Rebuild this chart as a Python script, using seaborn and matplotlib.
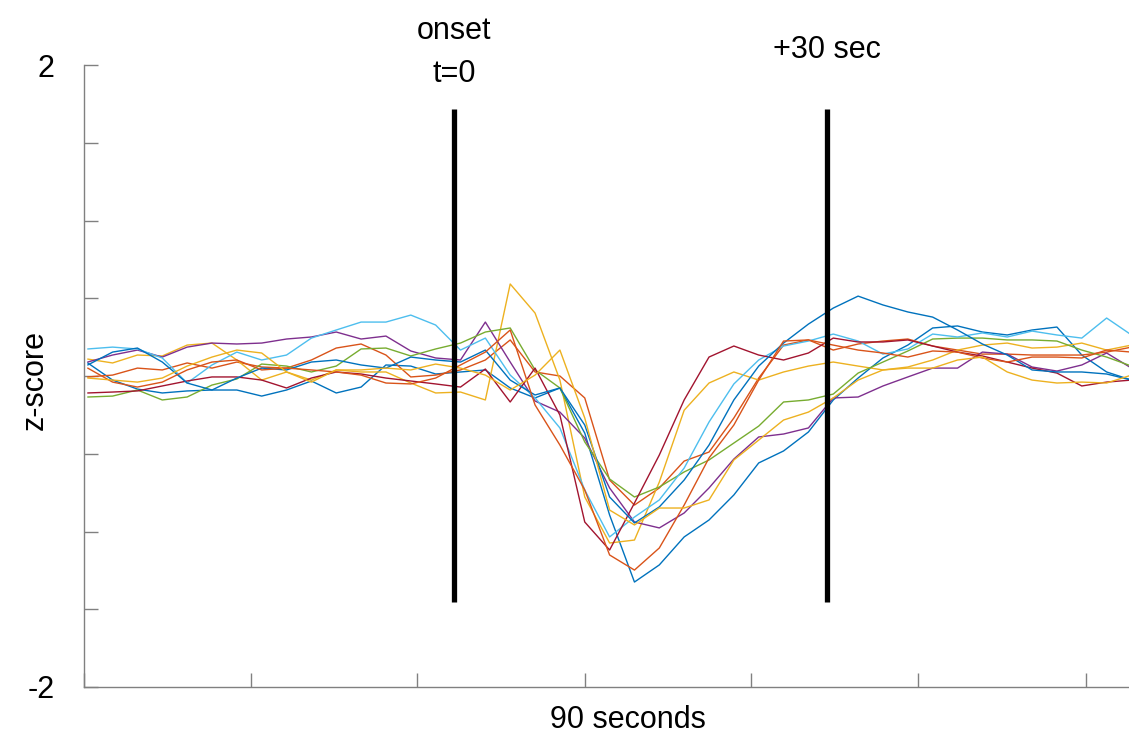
import numpy as np
import pandas as pd
import matplotlib
matplotlib.use("Agg")
import matplotlib.pyplot as plt
import seaborn as sns

# time (s) relative to onset, one sample every 2 s
t_start = -29.5
t_step = 2.0
n_pts = 43

blue_a = [0.084, -0.026, -0.084, -0.109, -0.096, -0.09, -0.09, -0.129, -0.09, -0.032, -0.109, -0.071, 0.071,
          0.064, 0.013, 0.026, 0.039, -0.077, -0.141, -0.077, -0.367, -0.894, -1.325, -1.215, -1.035, -0.926,
          -0.765, -0.559, -0.482, -0.36, -0.154, -0.013, 0.116, 0.199, 0.309, 0.322, 0.283, 0.264, 0.296, 0.315,
          0.135, 0.026, -0.026]
orange_a = [-0.006, 0.006, 0.051, 0.039, 0.084, 0.051, 0.09, 0.058, 0.051, 0.103, 0.18, 0.206, 0.135, -0.006,
            0.006, 0.039, 0.103, 0.232, 0.026, 0.0, -0.141, -0.669, -0.83, -0.72, -0.547, -0.489, -0.27, -0.013,
            0.199, 0.232, 0.167, 0.206, 0.225, 0.238, 0.193, 0.167, 0.141, 0.141, 0.135, 0.135, 0.135, 0.154, 0.186]
yellow_a = [0.109, 0.084, 0.135, 0.129, 0.199, 0.212, 0.103, -0.026, 0.026, -0.026, 0.039, 0.026, 0.026, -0.045,
            -0.109, -0.103, -0.154, 0.592, 0.405, -0.026, -0.778, -1.074, -1.055, -0.682, -0.22, -0.045, 0.026,
            -0.026, 0.026, 0.064, 0.09, 0.064, 0.039, 0.058, 0.103, 0.167, 0.199, 0.212, 0.18, 0.186, 0.212, 0.167,
            0.199]
purple = [0.09, 0.135, 0.167, 0.122, 0.186, 0.212, 0.206, 0.212, 0.238, 0.251, 0.283, 0.238, 0.257, 0.161, 0.116,
          0.103, 0.347, 0.09, -0.161, -0.232, -0.399, -0.72, -0.939, -0.977, -0.881, -0.72, -0.534, -0.392, -0.373,
          -0.334, -0.141, -0.135, -0.064, -0.006, 0.051, 0.051, 0.154, 0.141, 0.058, 0.032, 0.071, 0.148, 0.051]
green = [-0.135, -0.129, -0.09, -0.154, -0.135, -0.058, -0.019, 0.077, 0.064, 0.026, 0.064, 0.174, 0.18, 0.129,
         0.174, 0.212, 0.283, 0.309, 0.039, -0.077, -0.424, -0.662, -0.778, -0.714, -0.617, -0.54, -0.431, -0.322,
         -0.167, -0.154, -0.116, 0.019, 0.09, 0.161, 0.238, 0.244, 0.244, 0.232, 0.232, 0.225, 0.167, 0.122, 0.064]
light_blue = [0.174, 0.186, 0.174, 0.116, -0.045, 0.071, 0.154, 0.103, 0.135, 0.244, 0.296, 0.347, 0.347, 0.392,
              0.328, 0.167, 0.244, 0.006, -0.141, -0.334, -0.733, -1.035, -0.907, -0.797, -0.592, -0.296, -0.051,
              0.103, 0.193, 0.225, 0.27, 0.225, 0.141, 0.174, 0.27, 0.251, 0.277, 0.251, 0.289, 0.264, 0.244, 0.373,
              0.264]
dark_red = [-0.109, -0.103, -0.096, -0.064, -0.032, -0.006, -0.006, -0.026, -0.077, -0.013, 0.026, 0.013, -0.013,
            -0.032, -0.051, -0.071, 0.045, -0.167, 0.051, -0.251, -0.939, -1.119, -0.817, -0.508, -0.154, 0.122,
            0.193, 0.135, 0.103, 0.148, 0.244, 0.219, 0.219, 0.232, 0.193, 0.154, 0.129, 0.09, 0.051, 0.019, -0.064,
            -0.039, -0.026]
blue_b = [0.071, 0.154, 0.18, 0.09, -0.045, -0.09, -0.013, 0.051, 0.039, 0.09, 0.103, 0.071, 0.051, 0.122, 0.103,
          0.09, 0.167, -0.026, -0.122, -0.077, -0.315, -0.778, -0.945, -0.842, -0.669, -0.444, -0.154, 0.064, 0.212,
          0.334, 0.437, 0.514, 0.457, 0.412, 0.379, 0.296, 0.206, 0.135, 0.039, 0.026, 0.026, 0.013, -0.026]
orange_b = [0.051, -0.039, -0.071, -0.039, 0.039, 0.09, 0.103, 0.039, 0.051, 0.039, 0.026, 0.006, -0.045, -0.051,
            -0.013, 0.071, 0.154, 0.296, -0.186, -0.444, -0.733, -1.151, -1.248, -1.106, -0.83, -0.527, -0.315,
            -0.026, 0.225, 0.232, 0.199, 0.167, 0.148, 0.122, 0.161, 0.154, 0.116, 0.09, 0.122, 0.122, 0.116, 0.167,
            0.154]
yellow_b = [-0.013, -0.026, -0.039, -0.013, 0.064, 0.122, 0.167, 0.148, 0.026, -0.039, 0.039, 0.039, 0.051, 0.039,
            0.077, 0.051, 0.006, -0.09, 0.006, 0.167, -0.27, -0.862, -0.958, -0.849, -0.849, -0.797, -0.54, -0.412,
            -0.283, -0.232, -0.141, -0.026, 0.039, 0.051, 0.051, 0.103, 0.122, 0.026, -0.026, -0.045, -0.039, -0.045,
            0.006]

series = {
    "s1": blue_a, "s2": orange_a, "s3": yellow_a, "s4": purple, "s5": green,
    "s6": light_blue, "s7": dark_red, "s8": blue_b, "s9": orange_b, "s10": yellow_b,
}
colors = ["#0072BD", "#D95319", "#EDB120", "#7E2F8E", "#77AC30", "#4DBEEE", "#A2142F",
          "#0072BD", "#D95319", "#EDB120"]

event_times = [0, 30]
y_tick_values = [-2, -1.5, -1, -0.5, 0, 0.5, 1, 1.5, 2]
y_tick_labels = ["-2", "", "", "", "", "", "", "", "2"]

t = t_start + t_step * np.arange(n_pts)
frames = []
for name, vals in series.items():
    frames.append(pd.DataFrame({"t": t, "z": vals, "series": name}))
df = pd.concat(frames, ignore_index=True)

sns.set_theme(style="white")
plt.rcParams["font.family"] = ["Liberation Sans", "DejaVu Sans"]
plt.rcParams["text.color"] = "black"
plt.rcParams["ytick.labelcolor"] = "black"

fig = plt.figure(figsize=(11.29, 7.36), dpi=100)
ax = fig.add_axes([0.0744, 0.0666, 0.9256, 0.845])

sns.lineplot(data=df, x="t", y="z", hue="series", hue_order=list(series.keys()),
             palette=colors, linewidth=1.0, legend=False, ax=ax, estimator=None, sort=False)

ax.set_xlim(-29.8, 54.3)
ax.set_ylim(-2, 2)

for et in event_times:
    ax.plot([et, et], [-1.455, 1.72], color="black", linewidth=3.8, solid_capstyle="butt", zorder=5)

ax.text(0, 2.22, "onset", ha="center", va="center", fontsize=22, color="black", clip_on=False)
ax.text(0, 1.94, "t=0", ha="center", va="center", fontsize=22, color="black", clip_on=False)
ax.text(30, 2.10, "+30 sec", ha="center", va="center", fontsize=22, color="black", clip_on=False)

ax.set_xticks([-29.8, -16.4, -3.0, 10.5, 23.9, 37.3, 50.8])
ax.set_xticklabels([])
ax.set_yticks(y_tick_values)
ax.set_yticklabels(y_tick_labels)
ax.tick_params(axis="both", which="major", bottom=True, left=True, direction="in",
               length=10, width=1, color="#808080")
ax.tick_params(axis="y", labelsize=22, pad=21, labelcolor="black")

for side in ["top", "right"]:
    ax.spines[side].set_visible(False)
for side in ["left", "bottom"]:
    ax.spines[side].set_color("#808080")
    ax.spines[side].set_linewidth(1.0)

ax.set_xlabel("")
ax.set_ylabel("")
fig.text(0.556, 0.022, "90 seconds", ha="center", va="center", fontsize=22, color="black")
fig.text(0.031, 0.484, "z-score", ha="center", va="center", fontsize=22, color="black", rotation=90)

fig.savefig("out.png", dpi=100)
